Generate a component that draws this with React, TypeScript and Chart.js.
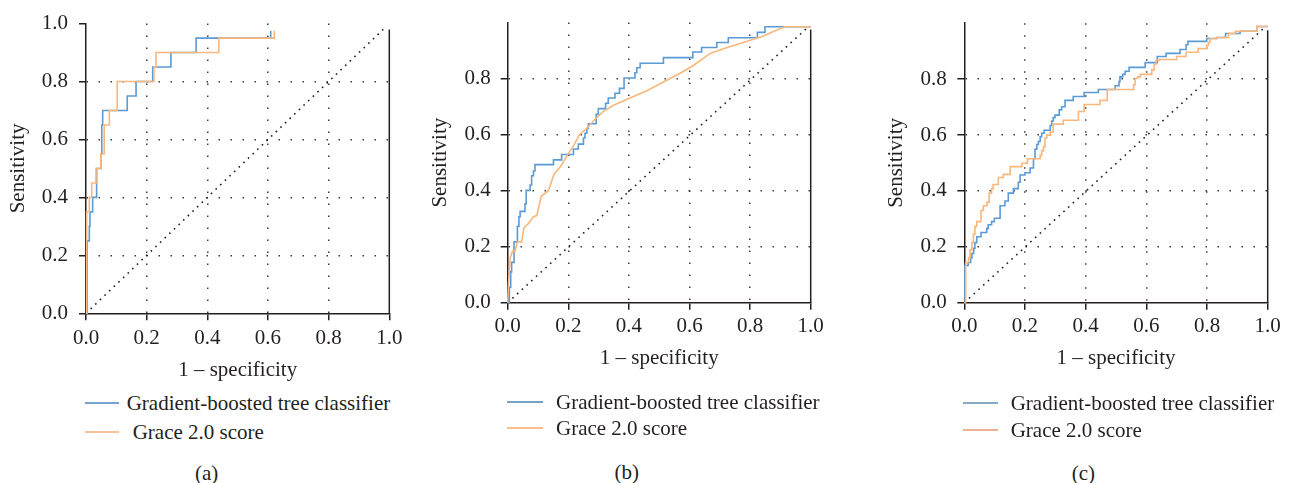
import React, { useEffect, useRef } from "react";
import { Chart, registerables } from "chart.js";

Chart.register(...registerables);

// ---------- DATA ----------
const X_TICKS = [0, 0.2, 0.4, 0.6, 0.8, 1.0];
const X_TICK_LABELS = ["0.0", "0.2", "0.4", "0.6", "0.8", "1.0"];
const Y_TICKS_A = [0, 0.2, 0.4, 0.6, 0.8, 1.0];
const Y_TICK_LABELS_A = ["0.0", "0.2", "0.4", "0.6", "0.8", "1.0"];
const Y_TICKS_BC = [0, 0.2, 0.4, 0.6, 0.8];
const Y_TICK_LABELS_BC = ["0.0", "0.2", "0.4", "0.6", "0.8"];

const X_TITLE = "1 – specificity";
const Y_TITLE = "Sensitivity";
const SERIES_NAMES = ["Gradient-boosted tree classifier", "Grace 2.0 score"];
const PANEL_LABELS = ["(a)", "(b)", "(c)"];

// Panel (a)
const A_GBT_X = [0, 0.004, 0.011, 0.013, 0.022, 0.035, 0.049, 0.052, 0.055, 0.136, 0.165, 0.22, 0.28, 0.363, 0.609];
const A_GBT_Y = [0, 0.25, 0.30, 0.35, 0.40, 0.50, 0.55, 0.65, 0.70, 0.75, 0.80, 0.85, 0.90, 0.95, 0.975];
const A_GRACE_X = [0, 0.002, 0.011, 0.019, 0.033, 0.049, 0.060, 0.077, 0.103, 0.224, 0.231, 0.438, 0.621];
const A_GRACE_Y = [0, 0.35, 0.40, 0.45, 0.50, 0.55, 0.65, 0.70, 0.80, 0.85, 0.90, 0.95, 0.975];
const A_DIAG_X = [0, 0.98];
const A_DIAG_Y = [0, 0.98];
const A_FRAME_TOP = 0.98;

// Panel (b)
const B_GBT_X = [0, 0.0055, 0.0099, 0.013, 0.021, 0.032, 0.037, 0.041, 0.057, 0.061, 0.074, 0.079, 0.085, 0.090, 0.151, 0.178, 0.217, 0.233, 0.250, 0.255, 0.261, 0.266, 0.292, 0.299, 0.323, 0.332, 0.354, 0.369, 0.384, 0.420, 0.426, 0.437, 0.514, 0.611, 0.640, 0.690, 0.728, 0.824, 0.849, 1.0];
const B_GBT_Y = [0, 0.054, 0.110, 0.144, 0.217, 0.273, 0.307, 0.326, 0.352, 0.401, 0.420, 0.453, 0.470, 0.493, 0.51, 0.529, 0.549, 0.566, 0.588, 0.605, 0.622, 0.639, 0.673, 0.693, 0.712, 0.731, 0.748, 0.765, 0.802, 0.821, 0.839, 0.855, 0.875, 0.895, 0.911, 0.929, 0.946, 0.965, 0.985, 0.985];
const B_GRACE_X = [0, 0.003, 0.008, 0.016, 0.024, 0.032, 0.046, 0.054, 0.068, 0.085, 0.096, 0.111, 0.134, 0.153, 0.175, 0.197, 0.217, 0.237, 0.261, 0.288, 0.316, 0.349, 0.404, 0.459, 0.514, 0.569, 0.613, 0.668, 0.712, 0.767, 0.844, 0.877, 0.915, 1.0];
const B_GRACE_Y = [0, 0.077, 0.16, 0.184, 0.184, 0.217, 0.217, 0.268, 0.282, 0.307, 0.311, 0.38, 0.40, 0.459, 0.487, 0.527, 0.56, 0.60, 0.622, 0.655, 0.683, 0.705, 0.731, 0.757, 0.788, 0.819, 0.847, 0.89, 0.907, 0.925, 0.952, 0.968, 0.985, 0.985];
const B_DIAG_X = [0, 0.992];
const B_DIAG_Y = [0, 0.985];
const B_FRAME_TOP = 0.975;

// Panel (c)
const C_GBT_X = [0, 0.002, 0.013, 0.021, 0.025, 0.031, 0.035, 0.041, 0.055, 0.074, 0.079, 0.090, 0.099, 0.118, 0.134, 0.145, 0.162, 0.178, 0.184, 0.200, 0.217, 0.228, 0.233, 0.239, 0.244, 0.250, 0.255, 0.263, 0.283, 0.288, 0.293, 0.299, 0.313, 0.321, 0.332, 0.359, 0.395, 0.442, 0.497, 0.510, 0.513, 0.522, 0.530, 0.543, 0.596, 0.636, 0.665, 0.711, 0.731, 0.737, 0.799, 0.832, 0.861, 0.909, 0.964, 1.0];
const C_GBT_Y = [0, 0.133, 0.144, 0.16, 0.176, 0.195, 0.215, 0.236, 0.251, 0.266, 0.279, 0.29, 0.302, 0.347, 0.364, 0.392, 0.408, 0.431, 0.457, 0.465, 0.482, 0.515, 0.549, 0.566, 0.577, 0.594, 0.606, 0.617, 0.634, 0.65, 0.662, 0.671, 0.69, 0.701, 0.724, 0.738, 0.752, 0.763, 0.776, 0.791, 0.808, 0.817, 0.828, 0.842, 0.859, 0.881, 0.892, 0.906, 0.923, 0.935, 0.945, 0.949, 0.963, 0.971, 0.988, 0.988];
const C_GRACE_X = [0, 0.0045, 0.014, 0.019, 0.025, 0.030, 0.035, 0.041, 0.055, 0.063, 0.075, 0.082, 0.090, 0.095, 0.112, 0.129, 0.151, 0.190, 0.208, 0.250, 0.255, 0.261, 0.266, 0.272, 0.283, 0.293, 0.326, 0.376, 0.395, 0.447, 0.471, 0.558, 0.563, 0.571, 0.580, 0.618, 0.626, 0.632, 0.643, 0.700, 0.731, 0.771, 0.799, 0.805, 0.810, 0.832, 0.871, 0.893, 0.964, 1.0];
const C_GRACE_Y = [0, 0.144, 0.16, 0.189, 0.215, 0.245, 0.273, 0.29, 0.33, 0.347, 0.36, 0.392, 0.408, 0.423, 0.448, 0.459, 0.487, 0.499, 0.515, 0.527, 0.544, 0.558, 0.589, 0.6, 0.611, 0.639, 0.653, 0.684, 0.709, 0.724, 0.763, 0.78, 0.802, 0.808, 0.817, 0.833, 0.853, 0.867, 0.870, 0.881, 0.896, 0.909, 0.921, 0.932, 0.945, 0.949, 0.963, 0.971, 0.988, 0.988];
const C_DIAG_X = [0, 0.995];
const C_DIAG_Y = [0, 0.99];
const C_FRAME_TOP = 0.975;

// ---------- STYLE ----------
const FONT = "'Liberation Serif', 'DejaVu Serif', serif";
const INK = "#231f20";
const GRID_INK = "#3c3c3c";
const BLUE = "#5b9bd5";
const ORANGE = "#f9b77c";
const FONT_SIZE = 21;

const pts = (xs: number[], ys: number[]) => xs.map((x, i) => ({ x, y: ys[i] }));

type PanelCfg = {
  left: number; width: number; height: number;
  pad: { top: number; right: number; bottom: number; left: number };
  yW: number; xH: number; yTitlePad: number; xTickPad: number; yTickPad: number;
  yTicks: number[]; yTickLabels: string[];
  gbtX: number[]; gbtY: number[]; graceX: number[]; graceY: number[]; graceStepped: boolean;
  diagX: number[]; diagY: number[]; frameTop: number;
};

const PANELS: PanelCfg[] = [
  {
    left: 0, width: 420, height: 390,
    pad: { top: 17.3, right: 30.7, bottom: 7.4, left: 0 },
    yW: 86, xH: 69.3, yTitlePad: 5.7, xTickPad: 5.1, yTickPad: 11,
    yTicks: Y_TICKS_A, yTickLabels: Y_TICK_LABELS_A,
    gbtX: A_GBT_X, gbtY: A_GBT_Y, graceX: A_GRACE_X, graceY: A_GRACE_Y, graceStepped: true,
    diagX: A_DIAG_X, diagY: A_DIAG_Y, frameTop: A_FRAME_TOP,
  },
  {
    left: 420, width: 440, height: 390,
    pad: { top: 6.45, right: 49.3, bottom: 19.1, left: 0 },
    yW: 87.7, xH: 68.2, yTitlePad: 7.4, xTickPad: 4.4, yTickPad: 10,
    yTicks: Y_TICKS_BC, yTickLabels: Y_TICK_LABELS_BC,
    gbtX: B_GBT_X, gbtY: B_GBT_Y, graceX: B_GRACE_X, graceY: B_GRACE_Y, graceStepped: false,
    diagX: B_DIAG_X, diagY: B_DIAG_Y, frameTop: B_FRAME_TOP,
  },
  {
    left: 876, width: 416, height: 390,
    pad: { top: 6.45, right: 24.3, bottom: 19.1, left: 0 },
    yW: 88.3, xH: 68.2, yTitlePad: 8.1, xTickPad: 4.4, yTickPad: 10.6,
    yTicks: Y_TICKS_BC, yTickLabels: Y_TICK_LABELS_BC,
    gbtX: C_GBT_X, gbtY: C_GBT_Y, graceX: C_GRACE_X, graceY: C_GRACE_Y, graceStepped: true,
    diagX: C_DIAG_X, diagY: C_DIAG_Y, frameTop: C_FRAME_TOP,
  },
];

const LEGENDS = [
  { x1: 85, x2: 119, ys: [403, 432], textLeft: [126.7, 132.7], colors: ["#5b93c9", "#f7b583"], capX: 206.7, capY: 473 },
  { x1: 507, x2: 543, ys: [402, 428], textLeft: [556, 556], colors: ["#5f8fbe", "#f9b27a"], capX: 626.7, capY: 471.7 },
  { x1: 963, x2: 998, ys: [403, 430], textLeft: [1010.7, 1010.7], colors: ["#7399b8", "#e6a57f"], capX: 1083.3, capY: 473.3 },
];

const gridColor = (ctx: any) => {
  const v = ctx.tick ? ctx.tick.value : null;
  return v === 0 || v === 1 ? "rgba(0,0,0,0)" : GRID_INK;
};

function RocPanel({ cfg }: { cfg: PanelCfg }) {
  const ref = useRef<HTMLCanvasElement | null>(null);
  useEffect(() => {
    if (!ref.current) return;
    const tickFont = { family: FONT, size: FONT_SIZE };
    const chart = new Chart(ref.current, {
      type: "line",
      data: {
        datasets: [
          {
            data: pts(cfg.graceX, cfg.graceY), borderColor: ORANGE, borderWidth: 1.6,
            stepped: cfg.graceStepped ? "before" : false, pointRadius: 0, fill: false, tension: 0, clip: false, order: 0,
          },
          {
            data: pts(cfg.gbtX, cfg.gbtY), borderColor: BLUE, borderWidth: 1.6,
            stepped: "before", pointRadius: 0, fill: false, tension: 0, clip: false, order: 1,
          },
          {
            data: pts(cfg.diagX, cfg.diagY), borderColor: INK, borderWidth: 1.6, borderDash: [1.6, 4.8],
            pointRadius: 0, fill: false, tension: 0, clip: false, order: 2,
          },
          {
            data: pts([1, 1], [0, cfg.frameTop]), borderColor: INK, borderWidth: 1.5,
            pointRadius: 0, fill: false, tension: 0, clip: false, order: 3,
          },
        ] as any,
      },
      options: {
        responsive: false,
        animation: false,
        events: [],
        layout: { padding: cfg.pad },
        plugins: { legend: { display: false }, tooltip: { enabled: false }, title: { display: false } },
        elements: { point: { radius: 0 } },
        scales: {
          x: {
            type: "linear", min: 0, max: 1,
            afterBuildTicks: (s: any) => { s.ticks = X_TICKS.map((v) => ({ value: v })); },
            afterFit: (s: any) => { s.height = cfg.xH; },
            ticks: {
              callback: (_v: any, i: number) => X_TICK_LABELS[i], color: INK, font: tickFont,
              padding: cfg.xTickPad, maxRotation: 0, autoSkip: false,
            },
            grid: { color: gridColor, lineWidth: 1.5, tickLength: 7, tickWidth: 1.5, tickColor: INK, drawTicks: true },
            border: { display: true, color: INK, width: 1.5, dash: [1.5, 10.5] },
            title: { display: true, text: X_TITLE, color: INK, font: tickFont, padding: { top: 0, bottom: 0 } },
          },
          y: {
            type: "linear", min: 0, max: 1,
            afterBuildTicks: (s: any) => { s.ticks = cfg.yTicks.map((v) => ({ value: v })); },
            afterFit: (s: any) => { s.width = cfg.yW; },
            ticks: {
              callback: (_v: any, i: number) => cfg.yTickLabels[i], color: INK, font: tickFont,
              padding: cfg.yTickPad, autoSkip: false,
            },
            grid: { color: gridColor, lineWidth: 1.5, tickLength: 7, tickWidth: 1.5, tickColor: INK, drawTicks: true },
            border: { display: true, color: INK, width: 1.5, dash: [1.5, 10.5] },
            title: { display: true, text: Y_TITLE, color: INK, font: tickFont, padding: { top: cfg.yTitlePad, bottom: 0 } },
          },
        },
      } as any,
    });
    return () => chart.destroy();
  }, [cfg]);
  return (
    <canvas
      ref={ref}
      width={cfg.width}
      height={cfg.height}
      style={{ position: "absolute", left: cfg.left, top: 0, width: cfg.width, height: cfg.height }}
    />
  );
}

export default function App() {
  return (
    <div style={{ position: "absolute", left: 0, top: 0, width: 1292, height: 483, background: "#fff", overflow: "hidden" }}>
      {PANELS.map((p, i) => (
        <RocPanel key={i} cfg={p} />
      ))}
      {LEGENDS.map((lg, i) => (
        <React.Fragment key={"lg" + i}>
          {SERIES_NAMES.map((name, j) => (
            <React.Fragment key={j}>
              <div
                style={{
                  position: "absolute", left: lg.x1, top: lg.ys[j] - 1, width: lg.x2 - lg.x1, height: 2,
                  background: lg.colors[j], opacity: 0.85,
                }}
              />
              <div
                style={{
                  position: "absolute", left: lg.textLeft[j], top: lg.ys[j] - 13, height: 26, lineHeight: "26px",
                  fontFamily: FONT, fontSize: 21, color: INK, whiteSpace: "nowrap",
                }}
              >
                {name}
              </div>
            </React.Fragment>
          ))}
          <div
            style={{
              position: "absolute", left: lg.capX, top: lg.capY, transform: "translate(-50%, -50%)",
              fontFamily: FONT, fontSize: 21, color: INK, whiteSpace: "nowrap", lineHeight: "26px",
            }}
          >
            {PANEL_LABELS[i]}
          </div>
        </React.Fragment>
      ))}
    </div>
  );
}
